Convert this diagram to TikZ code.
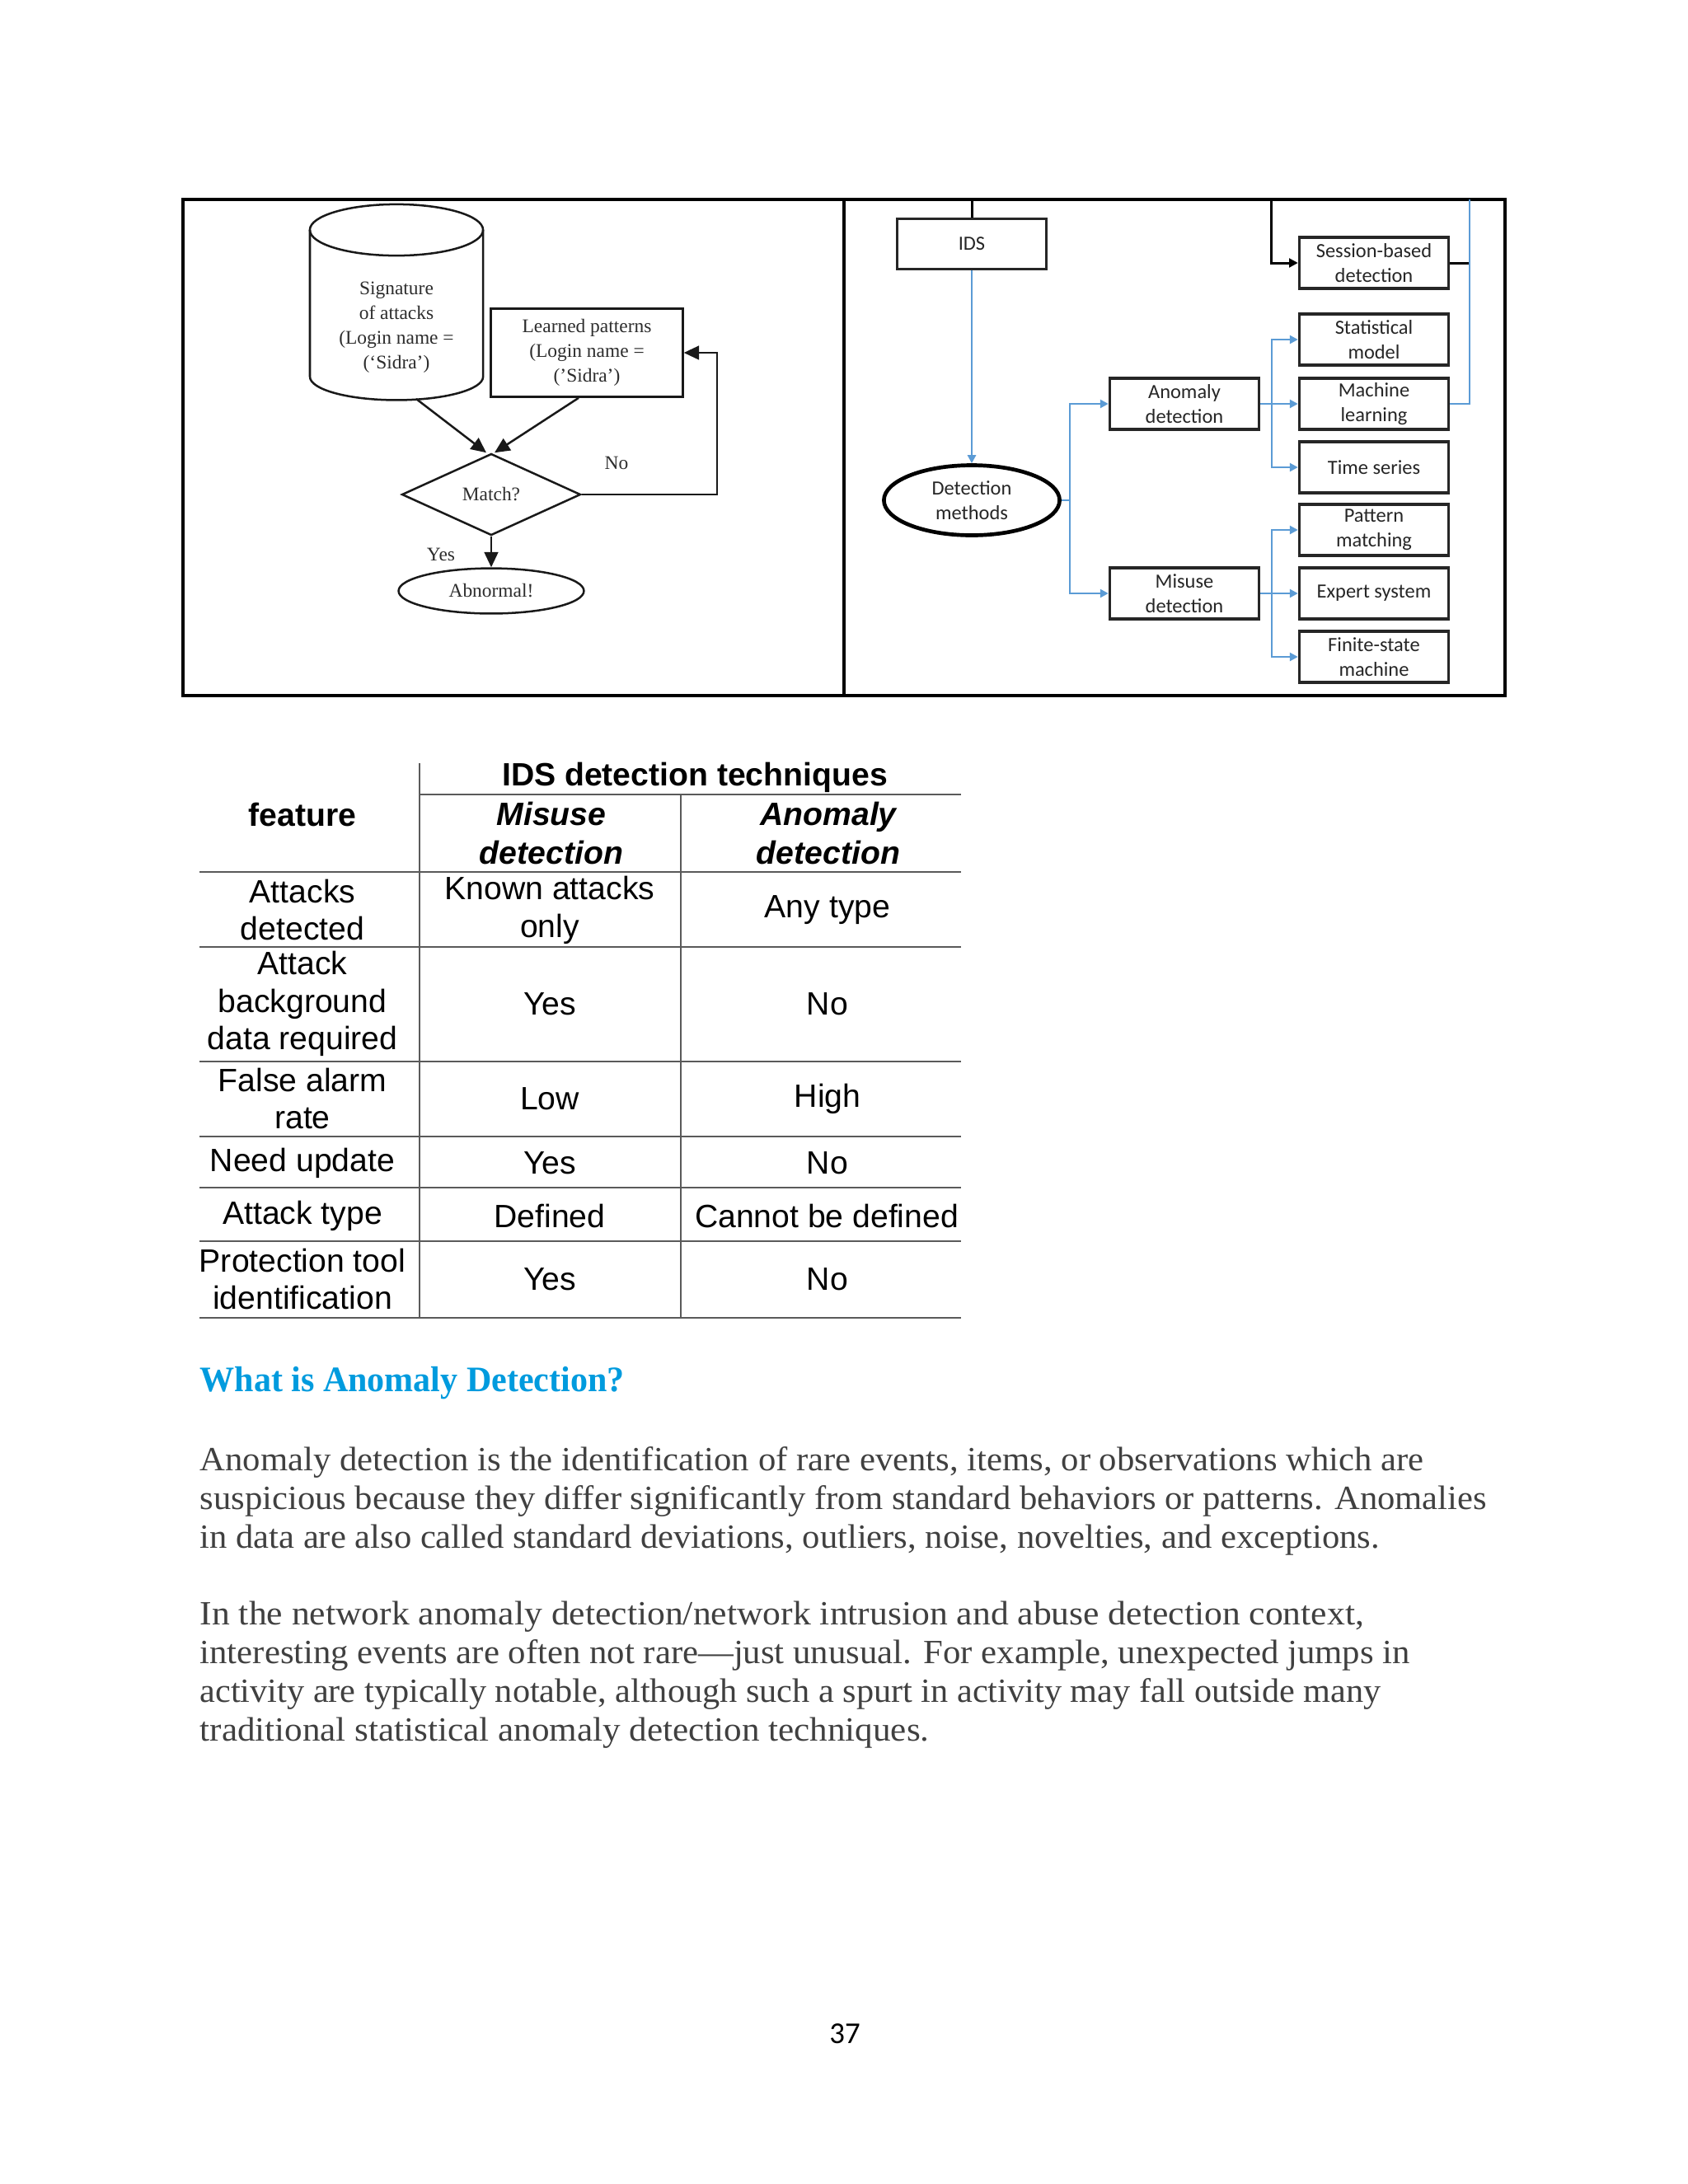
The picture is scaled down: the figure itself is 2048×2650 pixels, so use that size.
\documentclass[tikz,border=0pt]{standalone}
\usepackage{fontspec}
\usepackage{graphicx}
\setmainfont{Liberation Serif}
\newfontfamily\tabfont{Liberation Sans}
\newfontfamily\calfont{Carlito}
\usetikzlibrary{shapes.geometric,arrows.meta,calc}
\definecolor{bodygray}{RGB}{64,64,64}
\definecolor{headblue}{RGB}{0,155,222}
\definecolor{linkblue}{RGB}{91,155,213}
\definecolor{rulegray}{RGB}{90,90,90}
\definecolor{fctextc}{RGB}{45,45,45}
\begin{document}
\begin{tikzpicture}[x=0.29883pt,y=-0.29883pt,
  frameline/.style={line width=1pt,draw=black},
  fcl/.style={line width=0.75pt,draw=black!90},
  fca/.style={fcl,-{Triangle[length=5.5pt,width=5pt]}},
  fctext/.style={font=\fontsize{7}{9}\selectfont,text=fctextc,align=center,inner sep=0pt},
  fcbox/.style={fctext,draw=black!90,line width=0.75pt},
  rtext/.style={font=\calfont\fontsize{7.3}{9}\selectfont,text=black!85,align=center,inner sep=0pt},
  rbox/.style={rtext,draw=black!85,line width=1pt,minimum width=54.1pt,minimum height=18.5pt},
  bl/.style={draw=linkblue,line width=0.8pt},
  bla/.style={bl,-{Triangle[length=3pt,width=3pt]}},
  blk/.style={draw=black,line width=0.9pt},
  blka/.style={blk,-{Triangle[length=3.2pt,width=3.2pt]}},
  tcell/.style={font=\tabfont\fontsize{11.7}{13.7}\selectfont,align=center,inner sep=0pt,text=black},
  rule/.style={draw=rulegray,line width=0.45pt},
  bodyline/.style={anchor=base west,inner sep=0pt,text=bodygray,font=\fontsize{12.3}{14}\selectfont}
]
\fill[white] (0,0) rectangle (2048,2650);
\useasboundingbox (0,0) rectangle (2048,2650);

% ---------- frame ----------
\draw[frameline] (222,242) rectangle (1826,844);
\draw[frameline] (1024,242) -- (1024,844);

% ---------- left flowchart ----------
\draw[fcl] (481,279) ellipse [x radius=31.4pt, y radius=9.3pt];
\draw[fcl] (376,279) -- (376,457) arc[start angle=180,end angle=360,x radius=31.4pt,y radius=8.5pt] -- (586,279);
\node[fctext] (sig) at (481,397) {Signature\\of attacks\\(Login name =\\(‘Sidra’)};
\coordinate (sigout) at (505,484);
\node[fcbox,minimum width=69.6pt,minimum height=32pt] (learned) at (712,428) {Learned patterns\\(Login name =\\(’Sidra’)};
\node[fctext,draw=black!90,line width=0.75pt,diamond,aspect=2.2,minimum width=64.8pt,minimum height=29.6pt] (match) at (596,600) {Match?};
\node[fctext,draw=black!90,line width=0.75pt,ellipse,minimum width=67.2pt,minimum height=16.4pt] (abn) at (596,717) {Abnormal!};
\draw[fca] (sigout) -- ($(match.north)+(-6,0)$);
\draw[fca] ($(learned.south)+(-10,0)$) -- ($(match.north)+(4,0)$);
\coordinate (nocorner) at (870,600);
\draw[fca] (match.east) -- (nocorner) |- (learned.east);
\draw[fca] (match.south) -- (abn.north);
\node[fctext] (yes) at (535,673) {Yes};
\node[fctext] (no) at (748,562) {No};

% ---------- right diagram ----------
\node[rbox,minimum height=18.2pt] (ids) at (1179,296) {IDS};
\coordinate (idstop) at (1179,242);
\draw[blk] (ids.north) -- (idstop);
\node[rtext,draw=black,line width=1.4pt,ellipse,minimum width=63.7pt,minimum height=25.4pt] (dm) at (1179,607) {Detection\\methods};
\draw[bla] (ids.south) -- (dm.north);
\node[rbox] (ano) at (1437,490) {Anomaly\\detection};
\node[rbox] (mis) at (1437,720) {Misuse\\detection};
\coordinate (b1) at (1298,607);
\draw[bl] (dm.east) -- (b1);
\draw[bla] (b1) |- (ano.west);
\draw[bla] (b1) |- (mis.west);

\node[rbox] (ses) at (1667,319) {Session-based\\detection};
\node[rbox] (stat) at (1667,412) {Statistical\\model};
\node[rbox] (ml) at (1667,490) {Machine\\learning};
\node[rbox] (ts) at (1667,567) {Time series};
\node[rbox] (pm) at (1667,643) {Pattern\\matching};
\node[rbox] (es) at (1667,720) {Expert system};
\node[rbox] (fsm) at (1667,797) {Finite-state\\machine};

\coordinate (b2) at (1543,490);
\draw[bl] (ano.east) -- (b2);
\draw[bla] (b2) |- (stat.west);
\draw[bla] (b2) -- (ml.west);
\draw[bla] (b2) |- (ts.west);
\coordinate (b3) at (1543,720);
\draw[bl] (mis.east) -- (b3);
\draw[bla] (b3) |- (pm.west);
\draw[bla] (b3) -- (es.west);
\draw[bla] (b3) |- (fsm.west);

\coordinate (stop) at (1542,242);
\draw[blka] (stop) |- (ses.west);
\coordinate (send) at (1783,319);
\draw[blk] (ses.east) -- (send);
\coordinate (mtop) at (1783,242);
\draw[bl] (ml.east) -| (mtop);

% ---------- table ----------
\draw[rule] (509,926) -- (509,1599);
\draw[rule] (826,964) -- (826,1599);
\draw[rule] (509,964) -- (1166,964);
\foreach \yy in {1058,1149,1288,1379,1441,1506,1599}
  \draw[rule] (242,\yy) -- (1166,\yy);

\node[tcell,font=\tabfont\bfseries\fontsize{11.7}{13.7}\selectfont] (hdr) at (843,943) {IDS detection techniques};
\node[tcell,font=\tabfont\bfseries\fontsize{11.7}{13.7}\selectfont] (feat) at (367,988) {feature};
\node[tcell,font=\tabfont\bfseries\itshape\fontsize{11.7}{13.9}\selectfont] (hmis) at (669,1011) {Misuse\\detection};
\node[tcell,font=\tabfont\bfseries\itshape\fontsize{11.7}{13.9}\selectfont] (hano) at (1005,1011) {Anomaly\\detection};

\node[tcell] (r1a) at (367,1104) {Attacks\\detected};
\node[tcell] (r1b) at (667,1104) {Known attacks\\only};
\node[tcell] (r1c) at (1004,1104) {Any type};
\node[tcell] (r2a) at (367,1218) {Attack\\background\\data required};
\node[tcell] (r2b) at (667,1218) {Yes};
\node[tcell] (r2c) at (1004,1218) {No};
\node[tcell] (r3a) at (367,1333) {False alarm\\rate};
\node[tcell] (r3b) at (667,1333) {Low};
\node[tcell] (r3c) at (1004,1333) {High};
\node[tcell] (r4a) at (367,1411) {Need update};
\node[tcell] (r4b) at (667,1411) {Yes};
\node[tcell] (r4c) at (1004,1411) {No};
\node[tcell] (r5a) at (367,1475) {Attack type};
\node[tcell] (r5b) at (667,1475) {Defined};
\node[tcell] (r5c) at (1003,1475) {Cannot be defined};
\node[tcell] (r6a) at (367,1552) {Protection tool\\identification};
\node[tcell] (r6b) at (667,1552) {Yes};
\node[tcell] (r6c) at (1004,1552) {No};

% ---------- heading and body ----------
\node[anchor=base west,inner sep=0pt,text=headblue,font=\bfseries\fontsize{13}{15}\selectfont] (head) at (242,1688)
  {\resizebox{153.9pt}{\height}{What is Anomaly Detection?}};

\node[bodyline] (p1a) at (242,1784) {\resizebox{443.7pt}{\height}{Anomaly detection is the identification of rare events, items, or observations which are}};
\node[bodyline] (p1b) at (242,1831) {\resizebox{466.5pt}{\height}{suspicious because they differ significantly from standard behaviors or patterns. Anomalies}};
\node[bodyline] (p1c) at (242,1878) {\resizebox{427.7pt}{\height}{in data are also called standard deviations, outliers, noise, novelties, and exceptions.}};

\node[bodyline] (p2a) at (242,1971) {\resizebox{422pt}{\height}{In the network anomaly detection/network intrusion and abuse detection context,}};
\node[bodyline] (p2b) at (242,2018) {\resizebox{438.7pt}{\height}{interesting events are often not rare—just unusual. For example, unexpected jumps in}};
\node[bodyline] (p2c) at (242,2065) {\resizebox{428.2pt}{\height}{activity are typically notable, although such a spurt in activity may fall outside many}};
\node[bodyline] (p2d) at (242,2112) {\resizebox{264.4pt}{\height}{traditional statistical anomaly detection techniques.}};

\node[anchor=base,inner sep=0pt,font=\calfont\fontsize{11}{13}\selectfont,text=black] (pnum) at (1025,2479) {37};
\end{tikzpicture}
\end{document}
